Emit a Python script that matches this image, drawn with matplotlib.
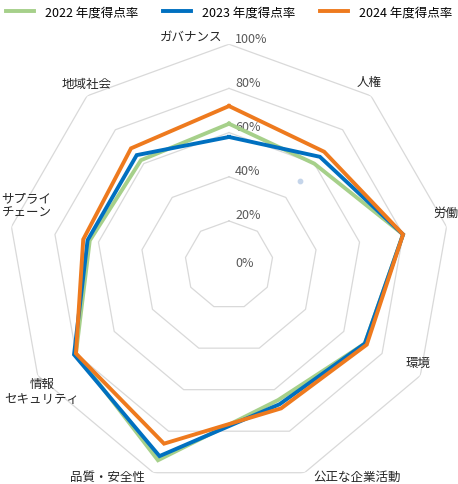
import numpy as np
import matplotlib
matplotlib.use('Agg')
import matplotlib.pyplot as plt

plt.rcParams['font.family'] = ['Noto Sans CJK JP', 'DejaVu Sans']

# axes, clockwise from the top
categories = ['ガバナンス', '人権', '労働', '環境', '公正な企業活動',
              '品質・安全性', '情報\nセキュリティ', 'サプライ\nチェーン', '地域社会']
series_names = ['2022 年度得点率', '2023 年度得点率', '2024 年度得点率']
scores_2022 = [0.64, 0.60, 0.80, 0.71, 0.65, 0.94, 0.80, 0.64, 0.62]
scores_2023 = [0.58, 0.64, 0.80, 0.71, 0.67, 0.92, 0.81, 0.65, 0.65]
scores_2024 = [0.72, 0.67, 0.80, 0.72, 0.69, 0.86, 0.80, 0.67, 0.69]
ring_values = [0.2, 0.4, 0.6, 0.8, 1.0]
tick_labels = ['0%', '20%', '40%', '60%', '80%', '100%']
stray_point = [0.5]  # small pale dot on the 人権 axis

colors = ['#a6d08a', '#0070c0', '#ee7a1e']

n = len(categories)
theta = np.arange(n) * 2 * np.pi / n
theta_closed = np.append(theta, theta[0])

fig = plt.figure(figsize=(4.58, 4.85), dpi=100)
ax = fig.add_axes([0.0175, -0.0042, 0.965, 0.911], projection='polar')
ax.set_theta_zero_location('N')
ax.set_theta_direction(-1)
ax.set_ylim(0, 1.0)
ax.grid(False)
ax.set_xticks([])
ax.set_yticks([])
ax.spines['polar'].set_visible(False)

# polygon rings
for r in ring_values:
    ax.plot(theta_closed, [r] * (n + 1), color='#d9d9d9', lw=0.9, zorder=1)

# radial tick labels
for i, lab in enumerate(tick_labels):
    r = i * 0.2
    dy = 3 if i == 0 else 6
    ax.annotate(lab, xy=(0, r), xytext=(6, dy), textcoords='offset pixels',
                ha='left', va='center', fontsize=9, color='#595959', zorder=2)

# series
for vals, name, c in zip([scores_2022, scores_2023, scores_2024], series_names, colors):
    ax.plot(theta_closed, vals + vals[:1], color=c, lw=2.8, label=name,
            solid_joinstyle='miter', zorder=3)

ax.scatter([theta[1]], stray_point, s=10, color='#c5d5ea', zorder=2)

# category labels (offsets in pixels from the 100% vertex)
label_pos = [
    (-7, 8, 'right', 'center'),
    (-2, 14, 'center', 'center'),
    (-1, 14, 'center', 'center'),
    (-2, 13, 'center', 'center'),
    (9, -4, 'left', 'center'),
    (-9, -4, 'right', 'center'),
    (4, -15, 'center', 'center'),
    (15, 22, 'center', 'center'),
    (0, 12, 'center', 'center'),
]
for t, lab, (dx, dy, ha, va) in zip(theta, categories, label_pos):
    align = 'left' if 'サプライ' in lab else 'center'
    ax.annotate(lab, xy=(t, 1.0), xytext=(dx, dy), textcoords='offset pixels',
                ha=ha, va=va, fontsize=9, color='#262626', multialignment=align,
                annotation_clip=False)

fig.legend(loc='upper center', bbox_to_anchor=(0.5, 1.01), ncol=3, frameon=False,
           fontsize=9, handlelength=2.2, columnspacing=2.0, handletextpad=0.9)

fig.savefig('out.png', dpi=100)
